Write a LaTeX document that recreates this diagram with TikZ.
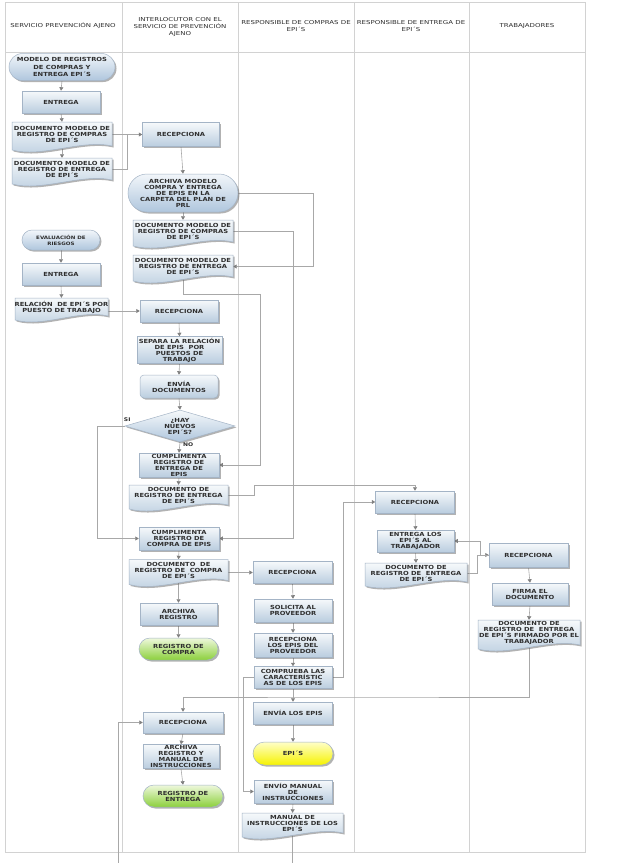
\documentclass[tikz,border=0pt]{standalone}
\usepackage{fontspec}
\setmainfont[FakeStretch=1.2]{DejaVu Sans}
\newfontfamily\hdrfont[FakeStretch=1.3]{DejaVu Sans}
\usetikzlibrary{shapes.geometric,shapes.misc,shadows,arrows.meta,calc}
\definecolor{lanegray}{HTML}{D2D2D2}
\definecolor{conngray}{HTML}{A8A8A8}
\definecolor{tipgray}{HTML}{808080}
\definecolor{boxtop}{HTML}{F6F9FB}
\definecolor{boxbot}{HTML}{BACDDF}
\definecolor{boxline}{HTML}{A4B4C6}
\definecolor{termtop}{HTML}{F2F6FA}
\definecolor{termbot}{HTML}{AFC6DD}
\definecolor{greentop}{HTML}{EEF8DC}
\definecolor{greenbot}{HTML}{8CD03C}
\definecolor{yeltop}{HTML}{FFFFC8}
\definecolor{yelbot}{HTML}{F6F200}
\definecolor{txt}{HTML}{2E2E2E}
\pgfdeclarelayer{bg}
\pgfsetlayers{bg,main}
\tikzset{
 shd/.style={drop shadow={shadow xshift=1.5pt,shadow yshift=-1.5pt,opacity=0.5,fill=black!60}},
 base/.style={font=\fontsize{5.6}{6}\selectfont\bfseries, text=txt, align=center, inner sep=0pt, draw=boxline, line width=0.5pt, shd},
 procbox/.style={base, rectangle, top color=boxtop, bottom color=boxbot},
 roundbox/.style={procbox, rounded corners=4pt},
 termbox/.style={base, rounded rectangle, top color=termtop, bottom color=termbot},
 greenterm/.style={termbox, top color=greentop, bottom color=greenbot},
 yelterm/.style={termbox, top color=yeltop, bottom color=yelbot},
 decbox/.style={base, diamond, aspect=3.4, top color=boxtop, bottom color=termbot},
 doctext/.style={font=\fontsize{5.6}{6}\selectfont\bfseries, text=txt, align=center, inner sep=0pt},
 docshape/.style={draw=boxline, line width=0.5pt, top color=boxtop, bottom color=boxbot, shd},
 conn/.style={draw=conngray, line width=0.6pt},
 arr/.style={conn, -{Triangle[width=4pt,length=3.5pt,fill=tipgray,color=tipgray]}},
 lane/.style={draw=lanegray, line width=0.7pt},
 hdr/.style={font=\hdrfont\fontsize{5.4}{6.8}\selectfont, text=txt, align=center},
 lbl/.style={font=\fontsize{5}{6}\selectfont\bfseries, text=txt, inner sep=0pt}
}
\newcommand\docn[6]{%
 \path[docshape] ({#2-#4/2},{#3-#5/2}) -- ({#2+#4/2},{#3-#5/2}) -- ({#2+#4/2},{#3+#5/2-1})
   .. controls ({#2+#4/5},{#3+#5/2-8}) and ({#2-#4/5},{#3+#5/2+11}) .. ({#2-#4/2},{#3+#5/2+3}) -- cycle;
 \node[doctext, minimum width=#4pt, minimum height=#5pt] (#1) at (#2,#3) {#6};
}
\begin{document}
\begin{tikzpicture}[x=1pt,y=-1pt]
\useasboundingbox (0,0) rectangle (624,863);
% headers
\node[hdr] (h1) at (63,26) {SERVICIO PREVENCIÓN AJENO};
\node[hdr] (h2) at (180,27) {INTERLOCUTOR CON EL\\SERVICIO DE PREVENCIÓN\\AJENO};
\node[hdr] (h3) at (296,26) {RESPONSIBLE DE COMPRAS DE\\EPI´S};
\node[hdr] (h4) at (411,26) {RESPONSIBLE DE ENTREGA DE\\EPI´S};
\node[hdr] (h5) at (527,26) {TRABAJADORES};
% lane 1
\node[termbox, minimum width=106pt, minimum height=27pt, font=\fontsize{5.6}{7.6}\selectfont\bfseries] (t1) at (62,67) {MODELO DE REGISTROS\\DE COMPRAS Y\\ENTREGA EPI´S};
\node[procbox, minimum width=78pt, minimum height=22pt] (p2) at (61,102) {ENTREGA};
\docn{d3}{62}{134.5}{100}{25}{DOCUMENTO MODELO DE\\REGISTRO DE COMPRAS\\DE EPI´S}
\docn{d4}{62}{169.5}{100}{23}{DOCUMENTO MODELO DE\\REGISTRO DE ENTREGA\\DE EPI´S}
\node[termbox, minimum width=78pt, minimum height=20pt, font=\fontsize{4.6}{6}\selectfont\bfseries] (t5) at (61,240) {EVALUACIÓN DE\\RIESGOS};
\node[procbox, minimum width=78pt, minimum height=22pt] (p6) at (61,274) {ENTREGA};
\docn{d7}{61.5}{307.5}{93}{19}{RELACIÓN \ DE EPI´S POR\\PUESTO DE TRABAJO}
% lane 2
\node[procbox, minimum width=77pt, minimum height=24pt] (p8) at (181,134.5) {RECEPCIONA};
\node[termbox, minimum width=110pt, minimum height=38pt] (t9) at (183,193) {ARCHIVA MODELO\\COMPRA Y ENTREGA\\DE EPIS EN LA\\CARPETA DEL PLAN DE\\PRL};
\docn{d10}{183}{231.5}{100}{23}{DOCUMENTO MODELO DE\\REGISTRO DE COMPRAS\\DE EPI´S}
\docn{d11}{183}{266.5}{100}{23}{DOCUMENTO MODELO DE\\REGISTRO DE ENTREGA\\DE EPI´S}
\node[procbox, minimum width=78pt, minimum height=22pt] (p12) at (179,311) {RECEPCIONA};
\node[procbox, minimum width=85pt, minimum height=27pt] (p13) at (179.5,350) {SEPARA LA RELACIÓN\\DE EPIS \ POR\\PUESTOS DE\\TRABAJO};
\node[roundbox, minimum width=78pt, minimum height=23pt] (p14) at (179,386.5) {ENVÍA\\DOCUMENTOS};
\node[decbox, minimum width=110pt, minimum height=32pt] (q15) at (180,426) {¿HAY\\NUEVOS\\EPI´S?};
\node[procbox, minimum width=80pt, minimum height=24pt] (p16) at (179,465) {CUMPLIMENTA\\REGISTRO DE\\ENTREGA DE\\EPIS};
\docn{d17}{178.5}{495.5}{99}{21}{DOCUMENTO DE\\REGISTRO DE ENTREGA\\DE EPI´S}
\node[procbox, minimum width=80pt, minimum height=23pt] (p18) at (179,538.5) {CUMPLIMENTA\\REGISTRO DE\\COMPRA DE EPIS};
\docn{d19}{178.5}{570.5}{99}{22}{DOCUMENTO \ DE\\REGISTRO DE \ COMPRA\\DE EPI´S}
\node[procbox, minimum width=77pt, minimum height=22pt] (p20) at (178.5,614) {ARCHIVA\\REGISTRO};
\node[greenterm, minimum width=79pt, minimum height=22pt] (t21) at (178.5,649) {REGISTRO DE\\COMPRA};
\node[procbox, minimum width=80pt, minimum height=21pt] (p22) at (183,722.5) {RECEPCIONA};
\node[procbox, minimum width=76pt, minimum height=24pt] (p23) at (181,756.5) {ARCHIVA\\REGISTRO Y\\MANUAL DE\\INSTRUCCIONES};
\node[greenterm, minimum width=80pt, minimum height=22pt] (t24) at (183,796) {REGISTRO DE\\ENTREGA};
% lane 3
\node[procbox, minimum width=79pt, minimum height=22pt] (p25) at (292.5,572.5) {RECEPCIONA};
\node[procbox, minimum width=78pt, minimum height=23pt] (p26) at (293,610.5) {SOLICITA AL\\PROVEEDOR};
\node[procbox, minimum width=78pt, minimum height=24pt] (p27) at (293,645) {RECEPCIONA\\LOS EPIS DEL\\PROVEEDOR};
\node[procbox, minimum width=78pt, minimum height=22pt] (p28) at (293,677.5) {COMPRUEBA LAS\\CARACTERÍSTIC\\AS DE LOS EPIS};
\node[procbox, minimum width=79pt, minimum height=22pt] (p29) at (293,713) {ENVÍA LOS EPIS};
\node[yelterm, minimum width=80pt, minimum height=23pt] (t30) at (293,753.5) {EPI´S};
\node[procbox, minimum width=78pt, minimum height=23pt] (p31) at (293,791.5) {ENVÍO MANUAL\\DE\\INSTRUCCIONES};
\docn{d32}{292.5}{823.5}{101}{21}{MANUAL DE\\INSTRUCCIONES DE LOS\\EPI´S}
% lane 4
\node[procbox, minimum width=79pt, minimum height=22pt] (p33) at (415,502) {RECEPCIONA};
\node[procbox, minimum width=77pt, minimum height=22pt] (p34) at (415.5,541) {ENTREGA LOS\\EPI´S AL\\TRABAJADOR};
\docn{d35}{416}{573}{102}{20}{DOCUMENTO DE\\REGISTRO DE \ ENTREGA\\DE EPI´S}
% lane 5
\node[procbox, minimum width=79pt, minimum height=24pt] (p36) at (528.5,555) {RECEPCIONA};
\node[procbox, minimum width=76pt, minimum height=22pt] (p37) at (530,594) {FIRMA EL\\DOCUMENTO};
\docn{d38}{529}{633}{102}{26}{DOCUMENTO DE\\REGISTRO DE \ ENTREGA\\DE EPI´S FIRMADO POR EL\\TRABAJADOR}
% labels
\node[lbl, anchor=north west] (lno) at ([xshift=3pt]q15.south) {NO};
\node[lbl, anchor=south east] (lsi) at ($(q15.west)+(6,-4)$) {SI};
% helper coordinates
\coordinate (j1) at (127,134.5);
\coordinate (k1) at (260,294);
\coordinate (k2) at (254,485);
\coordinate (k3) at (118,872);
\coordinate (k4) at (350,697);
\coordinate (k5) at (97,426);
\begin{pgfonlayer}{bg}
\fill[white] (0,0) rectangle (624,863);
\draw[lane] (5,2) rectangle (585,852);
\draw[lane] (5,52) -- (585,52);
\foreach \lx in {122,238,354,469} {\draw[lane] (\lx,2) -- (\lx,852);}
% connectors
\draw[arr] (t1.south) -- (p2.north);
\draw[arr] (p2.south) -- (d3.north);
\draw[arr] (d3.south) -- (d4.north);
\draw[arr] (d3.east |- p8.west) -- (p8.west);
\draw[conn] (d4.east) -| (j1);
\draw[arr] (p8.south) -- (t9.north);
\draw[arr] (t9.south) -- (d10.north);
\draw[arr] (t9.east) -- ++(75,0) |- (d11.east);
\draw[arr] (d10.east) -- ++(60,0) |- (p18.east);
\draw[arr] (d11.south) |- (k1) |- (p16.east);
\draw[arr] (t5.south) -- (p6.north);
\draw[arr] (p6.south) -- (d7.north);
\draw[arr] (d7.east |- p12.west) -- (p12.west);
\draw[arr] (p12.south) -- (p13.north);
\draw[arr] (p13.south) -- (p14.north);
\draw[arr] (p14.south) -- (q15.north);
\draw[arr] (q15.south) -- (p16.north);
\draw[arr] (q15.west) -- (k5) |- (p18.west);
\draw[arr] (p16.south) -- (d17.north);
\draw[arr] (d17.east) -| (k2) -| (p33.north);
\draw[arr] (p18.south) -- (d19.north);
\draw[arr] (d19.east |- p25.west) -- (p25.west);
\draw[arr] (d19.south) -- (p20.north);
\draw[arr] (p20.south) -- (t21.north);
\draw[arr] (p25.south) -- (p26.north);
\draw[arr] (p26.south) -- (p27.north);
\draw[arr] (p27.south) -- (p28.north);
\draw[arr] (p28.south) -- (p29.north);
\draw[arr] (p29.south) -- (t30.north);
\draw[arr] (p28.east) -- ++(11,0) |- (p33.west);
\draw[arr] (p28.west) -- ++(-10,0) |- (p31.west);
\draw[arr] (p31.south) -- (d32.north);
\draw[arr] (d32.south) |- (k3) |- (p22.west);
\draw[arr] (d38.south) |- (k4) -| (p22.north);
\draw[arr] (p22.south) -- (p23.north);
\draw[arr] (p23.south) -- (t24.north);
\draw[arr] (p33.south) -- (p34.north);
\draw[arr] (p34.south) -- (d35.north);
\draw[arr] (d35.east) -- ++(10,0) |- (p36.west);
\draw[arr] (p36.west) -- ++(-8,0) |- (p34.east);
\draw[arr] (p36.south) -- (p37.north);
\draw[arr] (p37.south) -- (d38.north);
\end{pgfonlayer}
\end{tikzpicture}
\end{document}
